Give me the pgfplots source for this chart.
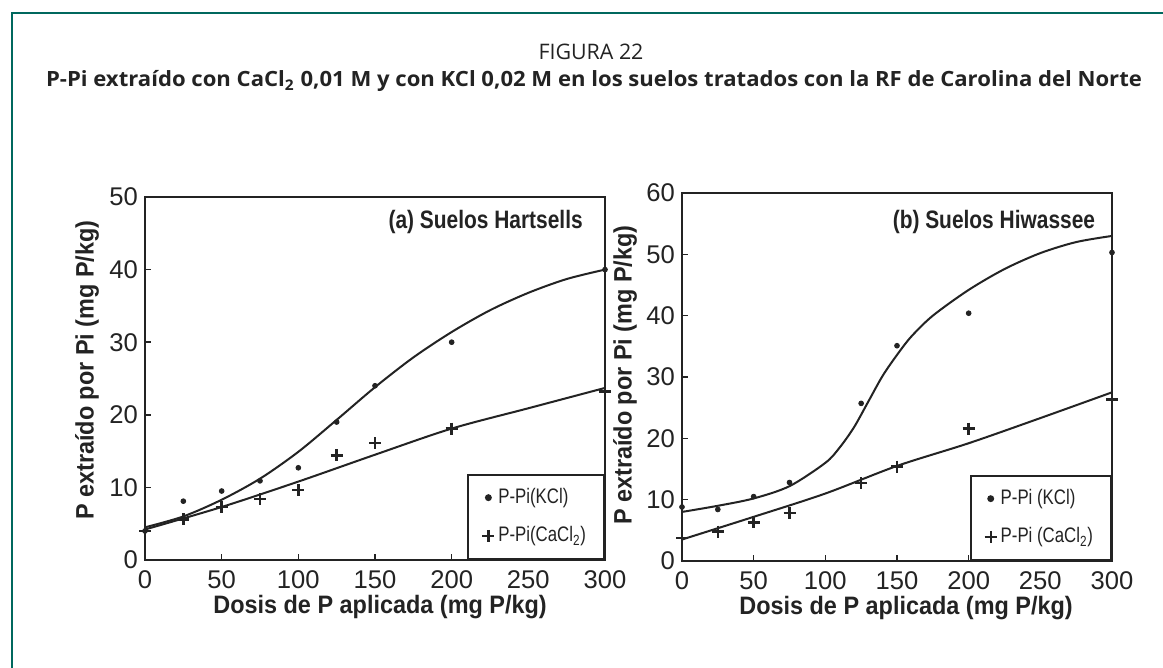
\documentclass[border=0pt]{standalone}
\usepackage{pgfplots}
\pgfplotsset{compat=1.18}
\usepackage{fontspec}
\setmainfont{Liberation Sans}
\newfontfamily\titlefont{Open Sans}
\definecolor{frame}{RGB}{0,104,94}
\definecolor{ink}{RGB}{35,35,35}
\newcommand{\condensed}[2]{\scalebox{#1}[1]{#2}}

\tikzset{ptitle/.style={anchor=east, font=\fontsize{12.6}{14}\selectfont\bfseries, text=ink}}
\pgfplotsset{
 myaxis/.style={
  scale only axis,
  anchor=south west,
  xmin=0,xmax=300,
  xtick={0,50,...,300},
  tick align=inside,
  tick pos=left,
  major tick length=3pt,
  axis line style={ink,line width=1pt},
  every tick/.style={ink,line width=0.8pt},
  tick label style={font=\fontsize{12.8}{14}\selectfont, text=ink},
  /pgf/number format/assume math mode=true,
  xticklabel style={yshift=-2pt},
  label style={font=\fontsize{12.6}{14}\selectfont\bfseries, text=ink},
  clip=false,
  legend cell align=left,
  legend style={at={(1,0)},anchor=south east, draw=ink, line width=1pt,
    font=\fontsize{10.5}{12}\selectfont, row sep=6pt, inner xsep=7pt, inner ysep=5pt, text=ink},
  legend image code/.code={\draw[mark repeat=2,mark phase=2,##1] plot coordinates {(0pt,0pt)(3pt,0pt)(6pt,0pt)};},
 },
 kcl/.style={only marks, mark=*, mark size=1.2pt, ink},
 cacl/.style={only marks, mark=+, mark size=3pt, line width=1.2pt, ink},
 fit/.style={no marks, smooth, ink, line width=1pt},
}

\begin{document}
\begin{tikzpicture}
\fill[white] (0,0) rectangle (581.5pt,334pt);
\useasboundingbox (0,0) rectangle (581.5pt,334pt);
\draw[frame, line width=1.1pt] (6pt,0pt) -- (6pt,327.5pt) -- (581.5pt,327.5pt);
\node[anchor=base, font=\titlefont\fontsize{10.7}{12}\selectfont, text=ink] at (295.5pt,304pt) {FIGURA 22};
\node[anchor=base, font=\titlefont\bfseries\fontsize{10.5}{12}\selectfont, text=ink] at (297pt,290.5pt)
  {\scalebox{1.052}[1]{P-Pi extraído con CaCl\textsubscript{2} 0,01 M y con KCl 0,02 M en los suelos tratados con la RF de Carolina del Norte}};

% Panel (a)
\begin{axis}[myaxis, at={(72.5pt,54pt)}, width=230pt, height=181.5pt,
  ymin=0, ymax=50, ytick={0,10,...,50},
  xlabel={\condensed{0.93}{Dosis de P aplicada (mg P/kg)}},
  ylabel={\condensed{0.93}{P extraído por Pi (mg P/kg)}},
  x label style={at={(axis description cs:0.511,-0.13)},anchor=center},
  y label style={at={(axis description cs:-0.126,0.523)},anchor=center},
]
\addplot[fit, forget plot] coordinates {(0,4.5) (25,6.0) (50,8.3) (75,11.2) (100,14.9) (125,19.3) (150,23.8) (175,27.9) (200,31.4) (225,34.4) (250,36.8) (275,38.7) (300,40.0)};
\addplot[fit, forget plot] coordinates {(0,4.2) (50,7.3) (100,10.8) (150,14.5) (200,18.1) (250,20.9) (300,23.7)};
\addplot[kcl] coordinates {(0,4.0) (25,8.1) (50,9.5) (75,10.9) (100,12.7) (125,19.0) (150,24.0) (200,30.0) (300,40.0)};
\addlegendentry{\condensed{0.8}{P-Pi(KCl)}}
\addplot[cacl] coordinates {(0,4.0) (25,5.6) (50,7.3) (75,8.4) (100,9.6) (125,14.4) (150,16.1) (200,18.1) (300,23.2)};
\addlegendentry{\condensed{0.8}{P-Pi(CaCl\textsubscript{2})}}
\node[ptitle] at (rel axis cs:0.967,0.931) {\condensed{0.83}{(a) Suelos Hartsells}};
\end{axis}

% Panel (b)
\begin{axis}[myaxis, at={(341pt,53.5pt)}, width=215pt, height=184pt,
  ymin=0, ymax=60, ytick={0,10,...,60},
  xlabel={\condensed{0.93}{Dosis de P aplicada (mg P/kg)}},
  ylabel={\condensed{0.93}{P extraído por Pi (mg P/kg)}},
  x label style={at={(axis description cs:0.521,-0.128)},anchor=center},
  y label style={at={(axis description cs:-0.1326,0.505)},anchor=center},
]
\addplot[fit, forget plot] coordinates {(0,8.0) (25,9.0) (50,10.2) (75,12.2) (100,16.0) (110,18.5) (120,21.8) (130,26.0) (140,30.2) (150,33.6) (160,36.6) (175,40.0) (200,44.2) (225,47.6) (250,50.2) (275,52.0) (300,53.0)};
\addplot[fit, forget plot] coordinates {(0,3.5) (50,7.2) (100,11.0) (150,15.5) (200,19.2) (250,23.3) (300,27.5)};
\addplot[kcl] coordinates {(0,8.8) (25,8.4) (50,10.5) (75,12.8) (125,25.7) (150,35.1) (200,40.4) (300,50.3)};
\addlegendentry{\condensed{0.8}{P-Pi (KCl)}}
\addplot[cacl] coordinates {(0,3.7) (25,4.8) (50,6.3) (75,7.8) (125,12.7) (150,15.4) (200,21.6) (300,26.3)};
\addlegendentry{\condensed{0.8}{P-Pi (CaCl\textsubscript{2})}}
\node[ptitle] at (rel axis cs:0.977,0.921) {\condensed{0.83}{(b) Suelos Hiwassee}};
\end{axis}
\end{tikzpicture}
\end{document}
